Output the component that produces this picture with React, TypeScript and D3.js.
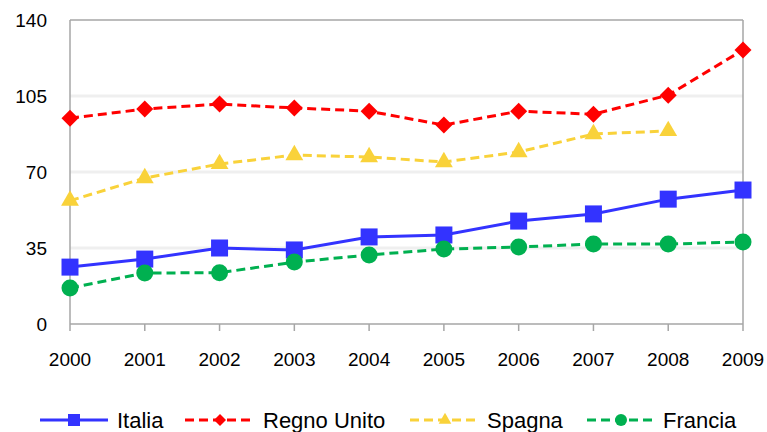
import React from "react";
import * as d3 from "d3";

const years = ["2000", "2001", "2002", "2003", "2004", "2005", "2006", "2007", "2008", "2009"];
const italia = [26.2, 29.9, 35.0, 34.1, 40.1, 41.0, 47.4, 50.7, 57.5, 61.7];
const regnoUnito = [94.8, 99.0, 101.3, 99.5, 98.0, 91.6, 98.0, 96.6, 105.4, 126.2];
const spagna = [56.8, 67.2, 73.7, 77.8, 76.9, 74.6, 79.2, 87.5, 88.9];
const francia = [16.6, 23.5, 23.6, 28.5, 31.8, 34.5, 35.5, 36.8, 36.8, 37.8];
const yTicks = [0, 35, 70, 105, 140];

type Marker = "square" | "diamond" | "triangle" | "circle";
const series: { name: string; values: number[]; color: string; dash: string | null; marker: Marker }[] = [
  { name: "Italia", values: italia, color: "#3333ff", dash: null, marker: "square" },
  { name: "Regno Unito", values: regnoUnito, color: "#ff0000", dash: "9,5", marker: "diamond" },
  { name: "Spagna", values: spagna, color: "#f9d23a", dash: "9,5", marker: "triangle" },
  { name: "Francia", values: francia, color: "#00b050", dash: "9,5", marker: "circle" },
];

const legendPos = [
  { lx0: 40, lx1: 108, tx: 117 },
  { lx0: 185, lx1: 255, tx: 263 },
  { lx0: 410, lx1: 480, tx: 487 },
  { lx0: 587, lx1: 655, tx: 663 },
];

function markerPath(m: Marker, s: number): string {
  if (m === "square") return `M${-s},${-s}H${s}V${s}H${-s}Z`;
  if (m === "diamond") return `M0,${-s}L${s},0L0,${s}L${-s},0Z`;
  if (m === "triangle") {
    const a = s * 2.1;
    const h = (a * Math.sqrt(3)) / 2;
    return `M0,${-(2 * h) / 3}L${a / 2},${h / 3}L${-a / 2},${h / 3}Z`;
  }
  return d3.symbol(d3.symbolCircle, Math.PI * s * s)() || "";
}

export default function App() {
  const W = 767, H = 432;
  const left = 70, right = 743, top = 20, bottom = 324;
  const x = d3.scalePoint<string>().domain(years).range([left, right]);
  const y = d3.scaleLinear().domain([0, 140]).range([bottom, top]);
  const font = "Arial, 'Liberation Sans', sans-serif";

  return (
    <svg width={W} height={H} style={{ position: "absolute", left: 0, top: 0, background: "#fff" }} fontFamily={font}>
      {/* gridlines */}
      {yTicks.filter((t) => t > 0 && t < 140).map((t) => (
        <line key={t} x1={left} x2={right} y1={y(t)} y2={y(t)} stroke="#efefef" strokeWidth={3} />
      ))}
      {/* frame */}
      <line x1={left} x2={right} y1={top} y2={top} stroke="#a6a6a6" strokeWidth={1.5} />
      <line x1={right} x2={right} y1={top} y2={bottom} stroke="#a6a6a6" strokeWidth={1.5} />
      <line x1={left} x2={left} y1={top} y2={bottom} stroke="#a6a6a6" strokeWidth={1.5} />
      <line x1={left} x2={right} y1={bottom} y2={bottom} stroke="#a6a6a6" strokeWidth={1.5} />
      {years.map((yr) => (
        <line key={yr} x1={x(yr)} x2={x(yr)} y1={bottom} y2={bottom + 7} stroke="#a6a6a6" strokeWidth={1.5} />
      ))}
      {/* y labels */}
      {yTicks.map((t) => (
        <text key={t} x={47} y={y(t) + 7} textAnchor="end" fontSize={19} fill="#000">
          {t}
        </text>
      ))}
      {/* x labels */}
      {years.map((yr) => (
        <text key={yr} x={x(yr)} y={366} textAnchor="middle" fontSize={19} fill="#000">
          {yr}
        </text>
      ))}
      {/* series */}
      {series.map((s) => {
        const line = d3
          .line<number>()
          .x((_, i) => x(years[i]) as number)
          .y((v) => y(v));
        return (
          <g key={s.name}>
            <path d={line(s.values) || ""} fill="none" stroke={s.color} strokeWidth={3} strokeDasharray={s.dash || undefined} />
            {s.values.map((v, i) => (
              <path
                key={i}
                transform={`translate(${x(years[i])},${y(v)})`}
                d={markerPath(s.marker, s.marker === "triangle" ? 8.5 : s.marker === "diamond" ? 8.5 : 8.5)}
                fill={s.color}
              />
            ))}
          </g>
        );
      })}
      {/* legend */}
      {series.map((s, i) => {
        const p = legendPos[i];
        const ly = 420;
        return (
          <g key={s.name}>
            <line x1={p.lx0} x2={p.lx1} y1={ly} y2={ly} stroke={s.color} strokeWidth={3} strokeDasharray={s.dash || undefined} />
            <path transform={`translate(${(p.lx0 + p.lx1) / 2},${ly})`} d={markerPath(s.marker, 6)} fill={s.color} />
            <text x={p.tx} y={ly + 8} fontSize={22} fill="#000">
              {s.name}
            </text>
          </g>
        );
      })}
    </svg>
  );
}
